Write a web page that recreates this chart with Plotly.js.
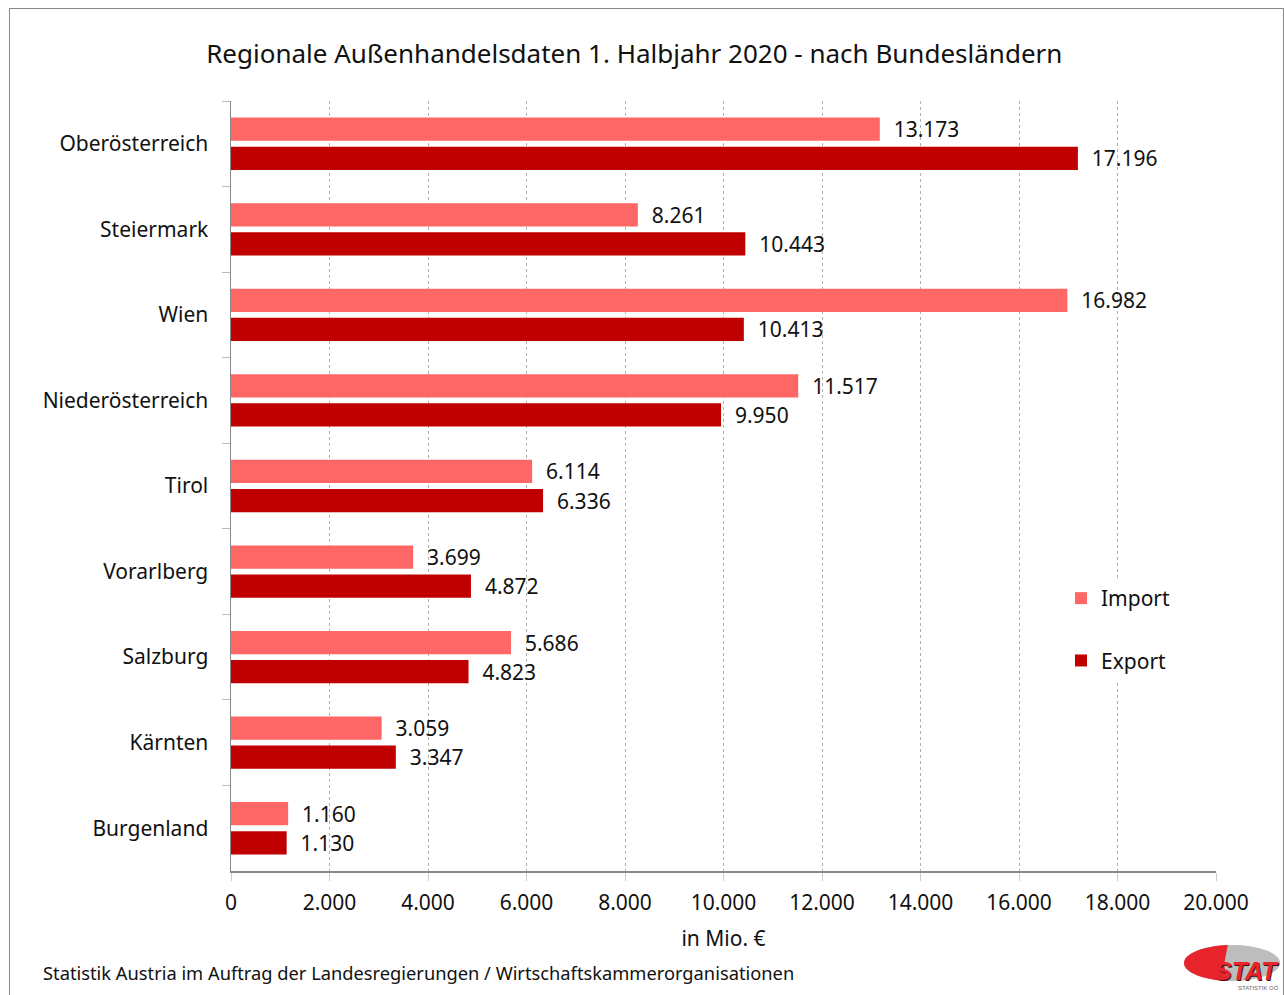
<!DOCTYPE html>
<html><head><meta charset="utf-8">
<script src="https://cdn.plot.ly/plotly-3.0.1.min.js"></script>
<style>html,body{margin:0;padding:0;background:#fff}#c{width:1284px;height:995px}</style>
</head><body><div id="c"></div>
<script>
const regions = ["Oberösterreich","Steiermark","Wien","Niederösterreich","Tirol","Vorarlberg","Salzburg","Kärnten","Burgenland"];
const importVals = [13173, 8261, 16982, 11517, 6114, 3699, 5686, 3059, 1160];
const exportVals = [17196, 10443, 10413, 9950, 6336, 4872, 4823, 3347, 1130];
const xTicks = [0,2000,4000,6000,8000,10000,12000,14000,16000,18000,20000];

const W=1284,H=995,L=231,R=68,T=101,B=124;
const pw=W-L-R, ph=H-T-B;
const px=x=>(x-L)/pw, py=y=>(H-B-y)/ph;
const FONT="Noto Sans, sans-serif";

const lblFont={family:FONT,size:21,color:"#111"};
const traces=[
 {type:"bar",orientation:"h",name:"Import",y:regions,x:importVals,marker:{color:"#FF6666"},
  texttemplate:"\u00a0\u00a0%{x:,}",textposition:"outside",constraintext:"none",textfont:lblFont,cliponaxis:false,legendgroup:"a",hoverinfo:"x+y"},
 {type:"bar",orientation:"h",name:"Export",y:regions,x:exportVals,marker:{color:"#C00000"},
  texttemplate:"\u00a0\u00a0%{x:,}",textposition:"outside",constraintext:"none",textfont:lblFont,cliponaxis:false,legendgroup:"b",hoverinfo:"x+y"}
];
const layout={
 width:W,height:H,margin:{l:L,r:R,t:T,b:B},
 paper_bgcolor:"#fff",plot_bgcolor:"#fff",
 separators:",.",
 font:{family:FONT,color:"#111"},
 title:{text:"Regionale Außenhandelsdaten 1. Halbjahr 2020 - nach Bundesländern",font:{family:FONT,size:26,color:"#111"},x:0.494,xanchor:"center",y:1-54/H,yanchor:"middle"},
 barmode:"group",bargap:0.32,bargroupgap:0.2,
 showlegend:true,
 legend:{x:px(1061),y:py(578),xanchor:"left",yanchor:"top",traceorder:"grouped",tracegroupgap:32,font:{family:FONT,size:21,color:"#111"},bgcolor:"#fff",itemwidth:30},
 xaxis:{range:[0,20000],tickvals:xTicks,tickformat:",",showgrid:true,gridcolor:"#b0b0b0",griddash:"3px,3px",gridwidth:1,
  zeroline:false,showline:true,linecolor:"#888",linewidth:1.5,ticks:"outside",ticklen:8,tickcolor:"#ccc",
  tickfont:{family:FONT,size:21,color:"#111"},ticklabelstandoff:4,
  title:{text:"in Mio. €",font:{family:FONT,size:21,color:"#111"},standoff:16}},
 yaxis:{autorange:"reversed",type:"category",showline:true,linecolor:"#888",linewidth:1.5,ticks:"outside",tickson:"boundaries",ticklen:8,tickcolor:"#bbb",
  showgrid:false,tickfont:{family:FONT,size:21,color:"#111"},ticklabelstandoff:17},
 shapes:[
  {type:"rect",xref:"paper",yref:"paper",x0:px(9.5),x1:px(1283.5),y0:py(1000),y1:py(8.5),line:{color:"#888",width:1},layer:"below"},
  {type:"circle",xref:"paper",yref:"paper",x0:px(1184),x1:px(1280),y0:py(981),y1:py(945),fillcolor:"#bdbdbd",line:{width:0}},
  {type:"path",xref:"paper",yref:"paper",path:"",fillcolor:"#e8242c",line:{width:0}}
 ],
 annotations:[
  {text:"Statistik Austria im Auftrag der Landesregierungen / Wirtschaftskammerorganisationen",xref:"paper",yref:"paper",x:px(41),y:py(972),xanchor:"left",yanchor:"middle",showarrow:false,font:{family:FONT,size:18.3,color:"#111"}},
  {text:"<b><i>STAT</i></b>",xref:"paper",yref:"paper",x:px(1282),y:py(972),xanchor:"right",yanchor:"middle",showarrow:false,font:{family:"Liberation Sans, sans-serif",size:25,color:"#3a1010"}},
  {text:"<b><i>STAT</i></b>",xref:"paper",yref:"paper",x:px(1281),y:py(971),xanchor:"right",yanchor:"middle",showarrow:false,font:{family:"Liberation Sans, sans-serif",size:25,color:"#e8242c"}},
  {text:"STATISTIK OÖ",xref:"paper",yref:"paper",x:px(1281),y:py(988),xanchor:"right",yanchor:"middle",showarrow:false,font:{family:"Liberation Sans, sans-serif",size:6,color:"#666"}}
 ]
};
(function(){
 const cx=1232,cy=963,rx=48,ry=18;let d="";
 const pts=[];
 for(let a=95;a<=265;a+=5){const r=a*Math.PI/180;pts.push([cx+rx*Math.cos(r),cy-ry*Math.sin(r)]);}
 pts.push([cx-8,cy+2]);
 pts.forEach((p,i)=>{d+=(i?"L":"M")+px(p[0])+","+py(p[1]);});
 d+="Z";
 layout.shapes[2].path=d;
})();
Plotly.newPlot("c",traces,layout,{displayModeBar:false,staticPlot:true});
</script></body></html>
